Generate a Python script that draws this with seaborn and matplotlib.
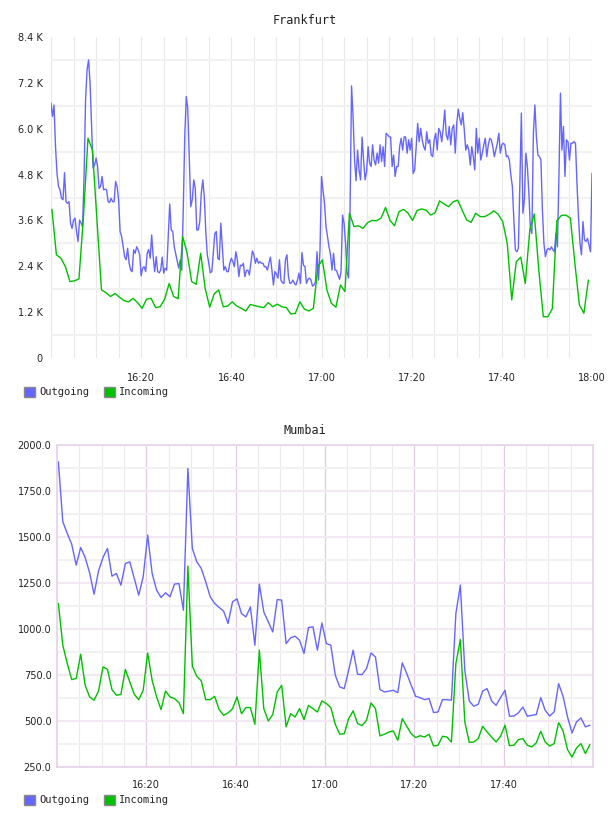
import numpy as np
import pandas as pd
import matplotlib
matplotlib.use("Agg")
import matplotlib.pyplot as plt
from matplotlib.patches import Patch
from matplotlib.ticker import MultipleLocator, FuncFormatter, FixedLocator
import seaborn as sns

# ---------------- data ----------------
START_HOUR = 16
SERIES = ["Outgoing", "Incoming"]
COLORS = {"Outgoing": "#6666ff", "Incoming": "#00c000"}

# Frankfurt outgoing (thousands), sampled every 20 s from 16:00
fra_out_k = [
    6.67, 6.32, 6.62, 5.53, 4.83, 4.49, 4.40, 4.18, 4.14, 4.85, 4.09, 4.05, 4.09, 3.53, 3.39, 3.61,
    3.66, 3.31, 3.05, 3.61, 3.53, 3.44, 4.75, 6.75, 7.54, 7.80, 7.19, 6.06, 4.97, 5.05, 5.23, 5.01,
    4.44, 4.49, 4.75, 4.40, 4.42, 4.40, 4.09, 4.07, 4.18, 4.09, 4.09, 4.62, 4.49, 4.14, 3.31, 3.18,
    2.91, 2.65, 2.57, 2.87, 2.48, 2.30, 2.26, 2.83, 2.74, 2.91, 2.83, 2.70, 2.15, 2.35, 2.39, 2.26,
    2.74, 2.84, 2.61, 3.22, 2.65, 2.26, 2.65, 2.26, 2.23, 2.30, 2.64, 2.22, 2.35, 2.30, 3.18, 4.03,
    3.35, 3.31, 2.91, 2.72, 2.52, 2.35, 2.57, 2.30, 3.87, 5.79, 6.84, 6.54, 5.27, 3.96, 4.14, 4.66,
    4.44, 3.35, 3.35, 3.57, 4.31, 4.66, 4.22, 3.31, 2.70, 2.48, 2.23, 2.26, 2.74, 3.26, 3.31, 2.61,
    2.57, 3.53, 2.91, 2.30, 2.39, 2.26, 2.26, 2.48, 2.61, 2.52, 2.39, 2.78, 2.57, 2.13, 2.43, 2.41,
    2.48, 2.13, 2.29, 2.30, 2.17, 2.48, 2.80, 2.70, 2.48, 2.61, 2.48, 2.52, 2.48, 2.48, 2.39, 2.39,
    2.30, 2.48, 2.64, 2.30, 1.91, 2.26, 2.20, 2.09, 2.57, 2.04, 1.97, 1.95, 2.57, 2.70, 2.13, 1.95,
    1.97, 2.04, 1.95, 1.91, 2.04, 2.22, 1.95, 2.76, 2.43, 2.39, 1.95, 2.06, 2.09, 2.04, 1.88, 1.91,
    2.00, 2.78, 2.04, 2.83, 4.75, 4.40, 4.05,
    3.44, 3.18, 2.91, 2.70, 2.30, 2.74, 2.30, 2.29, 2.17, 2.06, 2.26, 3.74, 3.53, 3.00, 2.26, 2.09,
    3.87, 7.12, 6.32, 5.18, 4.64, 5.44, 4.92, 4.66, 5.78, 5.18, 4.66, 4.88, 5.53, 5.10, 5.01, 5.58,
    5.18, 5.05, 5.36, 5.10, 5.58, 5.14, 5.53, 5.01, 5.88, 5.84, 5.79, 5.78, 5.01, 5.31, 4.75, 5.01,
    5.01, 5.53, 5.75, 5.44, 5.79, 5.78, 5.36, 5.71, 5.44, 5.75, 4.83, 4.92, 5.53, 6.14, 5.66, 6.01,
    5.71, 5.53, 5.44, 5.92, 5.62, 5.71, 5.31, 5.27, 5.71, 5.88, 5.44, 6.01, 5.92, 5.66, 6.01, 6.49,
    5.84, 5.71, 6.06, 5.58, 6.01, 6.10, 5.36, 6.14, 6.51, 6.27, 6.10, 6.42, 5.97, 5.44, 5.58, 5.44,
    5.05, 5.53, 5.27, 4.92, 6.01, 5.36, 5.75, 5.18, 5.36, 5.58, 5.75, 5.27, 5.58, 5.75, 5.71, 5.53,
    5.27, 5.44, 5.62, 5.88, 5.36, 5.58, 5.62, 5.58, 5.27, 5.29, 5.18, 4.79, 4.49, 3.61, 2.83, 2.78,
    2.87, 4.57, 6.41, 3.79, 4.14, 5.36, 5.01, 4.31, 3.39, 3.26, 5.88, 6.62, 5.79, 5.31, 5.27, 5.18,
    3.87, 3.00, 2.65, 2.83, 2.87, 2.83, 2.91, 2.83, 2.78, 3.26, 2.91, 4.75, 6.93, 5.44, 6.06, 4.75,
    5.71, 5.66, 5.18, 5.62, 5.62, 5.66, 5.62, 4.57, 3.70, 3.00, 2.70, 3.57, 3.09, 3.05, 3.13, 2.96,
    2.78, 4.83, 4.82,
]

# Frankfurt incoming (thousands), one sample per minute
fra_in_k = [
    3.89, 2.70, 2.61, 2.39, 2.00, 2.02, 2.07, 3.70, 5.75, 5.44, 3.60, 1.78, 1.71, 1.61, 1.69, 1.59,
    1.50, 1.47, 1.56, 1.45, 1.30, 1.54, 1.56, 1.32, 1.34, 1.54, 1.95, 1.61, 1.55, 3.18, 2.74, 2.00,
    1.93, 2.74, 1.82, 1.33, 1.68, 1.78, 1.34, 1.36, 1.47, 1.36, 1.30, 1.23, 1.40, 1.37, 1.34, 1.32,
    1.45, 1.34, 1.41, 1.34, 1.32, 1.15, 1.17, 1.47, 1.28, 1.23, 1.30, 2.39,
    2.57, 1.78, 1.43, 1.33, 1.91, 1.74, 3.79, 3.44, 3.46, 3.39, 3.54, 3.60, 3.59, 3.66, 3.94, 3.60,
    3.46, 3.83, 3.89, 3.79, 3.60, 3.86, 3.90, 3.87, 3.74, 3.80, 4.11, 4.03, 3.96, 4.09, 4.13, 3.87,
    3.61, 3.55, 3.79, 3.70, 3.70, 3.76, 3.85, 3.76, 3.57, 3.00, 1.52, 2.52, 2.64, 1.95, 3.35, 3.77,
    2.30, 1.08, 1.08, 1.29, 3.59, 3.73, 3.74, 3.66, 2.48, 1.39, 1.17, 2.04,
]

# Mumbai, one sample per minute
mum_out = [
    1909, 1583, 1519, 1460, 1347, 1443, 1389, 1305, 1189, 1316, 1389, 1438, 1287, 1302, 1238, 1356,
    1365, 1275, 1184, 1284, 1510, 1302, 1211, 1171, 1197, 1175, 1244, 1247, 1102, 1873, 1438, 1365,
    1329, 1256, 1175, 1139, 1117, 1097, 1030, 1148, 1164, 1084, 1066, 1120, 912, 1244, 1093, 1039,
    984, 1160, 1157, 921, 952, 961, 939, 867, 1008, 1012, 885, 1033,
    921, 912, 749, 685, 676, 776, 885, 754, 752, 785, 870, 848, 671, 658, 662, 667,
    654, 816, 758, 694, 634, 627, 616, 622, 546, 549, 616, 616, 613, 1084, 1238, 776,
    609, 580, 591, 663, 676, 609, 585, 627, 667, 526, 527, 544, 576, 526, 531, 535,
    627, 558, 527, 549, 703, 634, 522, 435, 495, 517, 468, 477,
]
mum_in = [
    1139, 912, 812, 725, 731, 863, 694, 631, 613, 663, 794, 781, 671, 640, 644, 780,
    712, 645, 616, 667, 870, 721, 631, 562, 663, 631, 622, 600, 540, 1342, 798, 743,
    718, 616, 616, 634, 562, 531, 544, 567, 631, 540, 573, 573, 482, 885, 567, 500,
    535, 658, 694, 468, 540, 522, 567, 508, 585, 567, 549, 609,
    595, 573, 482, 428, 431, 513, 555, 486, 475, 504, 598, 567, 419, 428, 440, 446,
    395, 513, 471, 431, 410, 420, 413, 428, 364, 368, 417, 413, 386, 812, 943, 495,
    384, 386, 404, 471, 440, 413, 386, 417, 477, 366, 368, 399, 404, 368, 359, 381,
    444, 386, 364, 377, 491, 446, 344, 304, 353, 377, 323, 372,
]

FRA_OUT_STEP_MIN = 1.0 / 3.0
FRA_IN_STEP_MIN = 1.0
FRA_IN_OFFSET_MIN = 0.2
MUM_STEP_MIN = 1.0
MUM_OFFSET_MIN = 0.3

fra_yticks_k = [0, 1.2, 2.4, 3.6, 4.8, 6.0, 7.2, 8.4]
fra_ytick_labels = ["0", "1.2 K", "2.4 K", "3.6 K", "4.8 K", "6.0 K", "7.2 K", "8.4 K"]
mum_yticks = [250, 500, 750, 1000, 1250, 1500, 1750, 2000]
mum_ytick_labels = ["250.0", "500.0", "750.0", "1000.0", "1250.0", "1500.0", "1750.0", "2000.0"]
fra_xticks_min = [20, 40, 60, 80, 100, 120]
mum_xticks_min = [20, 40, 60, 80, 100]


def hhmm(m):
    total = int(round(m))
    return f"{START_HOUR + total // 60}:{total % 60:02d}"


def frame(out_vals, in_vals, out_step, in_step, out_off=0.0, in_off=0.0):
    a = pd.DataFrame({"minute": out_off + np.arange(len(out_vals)) * out_step,
                      "value": out_vals, "series": "Outgoing"})
    b = pd.DataFrame({"minute": in_off + np.arange(len(in_vals)) * in_step,
                      "value": in_vals, "series": "Incoming"})
    return pd.concat([a, b], ignore_index=True)


df_fra = frame(fra_out_k, fra_in_k, FRA_OUT_STEP_MIN, FRA_IN_STEP_MIN, 0.0, FRA_IN_OFFSET_MIN)
df_mum = frame(mum_out, mum_in, MUM_STEP_MIN, MUM_STEP_MIN, MUM_OFFSET_MIN, MUM_OFFSET_MIN)

# ---------------- figure ----------------
sns.set_style("white")
plt.rcParams["font.family"] = ["DejaVu Sans"]

W, H = 608, 816
fig = plt.figure(figsize=(W / 100, H / 100), dpi=100)


def fx(px):
    return px / W


def fy(py):
    return 1 - py / H


ax1 = fig.add_axes([fx(51), fy(358), fx(592) - fx(51), fy(37) - fy(358)])
ax2 = fig.add_axes([fx(57), fy(767), fx(593) - fx(57), fy(445) - fy(767)])

for ax, df in ((ax1, df_fra), (ax2, df_mum)):
    sns.lineplot(data=df, x="minute", y="value", hue="series", hue_order=SERIES,
                 palette=COLORS, estimator=None, sort=False, legend=False,
                 linewidth=1.0, ax=ax)
    ax.set_xlabel("")
    ax.set_ylabel("")
    ax.set_xlim(0, 120)
    ax.set_axisbelow(True)
    ax.tick_params(axis="both", which="both", length=0, labelsize=7, colors="#222222")

# Frankfurt axes
ax1.set_ylim(0, 8.4)
ax1.yaxis.set_major_locator(FixedLocator(fra_yticks_k))
ax1.set_yticklabels(fra_ytick_labels)
ax1.yaxis.set_minor_locator(MultipleLocator(1.2, offset=0.6))
ax1.xaxis.set_major_locator(FixedLocator(fra_xticks_min))
ax1.xaxis.set_major_formatter(FuncFormatter(lambda v, p: hhmm(v)))
ax1.xaxis.set_minor_locator(MultipleLocator(5))
ax1.grid(axis="x", which="both", color="#e8e8e8", linewidth=0.8)
ax1.grid(axis="y", which="minor", color="#f1f1f1", linewidth=1.5)
ax1.grid(axis="y", which="major", visible=False)
for s in ax1.spines.values():
    s.set_visible(False)
ax1.tick_params(axis="x", pad=11)
ax1.tick_params(axis="y", pad=6)

# Mumbai axes
ax2.set_ylim(250, 2000)
ax2.yaxis.set_major_locator(FixedLocator(mum_yticks))
ax2.set_yticklabels(mum_ytick_labels)
ax2.yaxis.set_minor_locator(MultipleLocator(250, offset=125))
ax2.xaxis.set_major_locator(FixedLocator(mum_xticks_min))
ax2.xaxis.set_major_formatter(FuncFormatter(lambda v, p: hhmm(v)))
ax2.xaxis.set_minor_locator(MultipleLocator(5))
ax2.grid(axis="x", which="major", color="#e0cce0", linewidth=0.9)
ax2.grid(axis="x", which="minor", color="#ebebeb", linewidth=0.8)
ax2.grid(axis="y", which="major", color="#f3e7f3", linewidth=1.5)
ax2.grid(axis="y", which="minor", color="#f1f1f1", linewidth=1.5)
for s in ax2.spines.values():
    s.set_visible(True)
    s.set_color("#e6d2e6")
    s.set_linewidth(1.2)
ax2.tick_params(axis="x", pad=9)
ax2.tick_params(axis="y", pad=4)

# titles
fig.text(fx(305), fy(20), "Frankfurt", ha="center", va="center",
         family="DejaVu Sans Mono", fontsize=8.5, color="#222222")
fig.text(fx(305), fy(430), "Mumbai", ha="center", va="center",
         family="DejaVu Sans Mono", fontsize=8.5, color="#222222")

# legends
for yc in (392, 800):
    handles = [Patch(facecolor=COLORS[s], edgecolor="#888888", linewidth=1.0, label=s)
               for s in SERIES]
    fig.legend(handles=handles, loc="center left", bbox_to_anchor=(fx(24), fy(yc)),
               ncol=2, frameon=False, borderpad=0, borderaxespad=0,
               handlelength=1.1, handleheight=1.1, handletextpad=0.35,
               columnspacing=1.4,
               prop={"family": "DejaVu Sans Mono", "size": 7.5})

fig.savefig("out.png", dpi=100)
